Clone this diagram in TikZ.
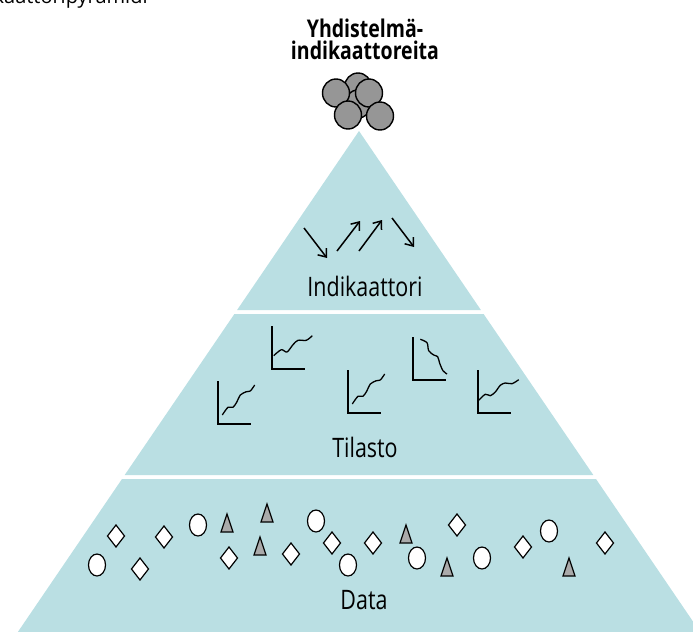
\documentclass[tikz,border=0pt]{standalone}
\usepackage{fontspec}
\setmainfont{Open Sans}[FakeStretch=0.8]
\newfontfamily\capfont{Open Sans}
\usetikzlibrary{arrows.meta}

\definecolor{pyrblue}{RGB}{186,223,227}
\definecolor{ballgray}{RGB}{150,150,150}
\definecolor{markgray}{RGB}{170,170,170}

\begin{document}
\begin{tikzpicture}[x=0.5pt, y=-0.5pt,
	%Option for the trend arrows
	>={Straight Barb[length=3.5pt,width=5.5pt]}, %
	layer/.style={fill=pyrblue},
	lbl/.style={inner sep=0pt, font=\fontsize{13.4}{16}\selectfont},
	ball/.style={draw, fill=ballgray, line width=0.7pt},
	datamark/.style={draw, fill=#1, line width=0.6pt},
	axes/.style={line width=0.65pt},
	trend/.style={line width=0.65pt, smooth},
	]
	\useasboundingbox (0,0) rectangle (693,632);
	
	% Caption, cut off by the page
	\node[anchor=base east, inner sep=0pt, font=\capfont\fontsize{10}{12}\selectfont]
	(caption) at (148,3) {Indikaattoripyramidi};
	
	% Pyramid layers
	\fill[layer] (359,131) -- (480.9,310) -- (237.1,310) -- cycle;
	\fill[layer] (234.4,314) -- (483.6,314) -- (593.3,475) -- (124.7,475) -- cycle;
	\fill[layer] (122.0,479) -- (596.0,479) -- (705.6,640) -- (12.4,640) -- cycle;
	
	% Composite indicators
	\node[align=center, inner sep=0pt, font=\bfseries\fontsize{12.2}{11}\selectfont]
	(title) at (365,39) {Yhdistelmä-\\indikaattoreita};
	\foreach \x/\y in {358/87, 358/104, 336/93, 369/93, 348/115, 380/116}
	\draw[ball] (\x,\y) ellipse (13.5 and 14);
	
	% Indicators
	\draw[->, line width=0.75pt] (304,228) -- (327,258);
	\draw[->, line width=0.75pt] (337,251) -- (360,221);
	\draw[->, line width=0.75pt] (359,251) -- (382,220);
	\draw[->, line width=0.75pt] (392,218) -- (414,247);
	\node[lbl] (indik) at (365,286) {Indikaattori};
	
	% Statistics
	\foreach \cx/\cy in {272/369, 218/424, 348/413, 413/380, 478/413}
	\draw[axes] (\cx,\cy-43) -- (\cx,\cy) -- (\cx+33,\cy);
	\begin{scope}[shift={(272,369)}]
	\draw[trend] plot coordinates {(1.7,-13.3) (9.3,-19.3) (15,-17) (21,-24.3) (26,-28.7) (34.3,-28.7) (40.3,-33.3)};
	\end{scope}
	\begin{scope}[shift={(218,424)}]
	\draw[trend] plot coordinates {(4.3,-9) (10,-16.7) (15,-16.7) (19,-22.3) (22.3,-29) (28.3,-32.3) (32.3,-33) (36.7,-39)};
	\end{scope}
	\begin{scope}[shift={(348,413)}]
	\draw[trend] plot coordinates {(4.3,-9) (10,-16.7) (15,-16.7) (19,-22.3) (22.3,-29) (28.3,-32.3) (32.3,-33) (36.7,-39)};
	\end{scope}
	\begin{scope}[shift={(413,380)}]
	\draw[trend] plot coordinates {(7.3,-40.7) (14,-37.3) (15.7,-29.3) (20.7,-25) (24.7,-23.3) (26.7,-16.7) (30,-9.3) (34,-6)};
	\end{scope}
	\begin{scope}[shift={(478,413)}]
	\draw[trend] plot coordinates {(0.7,-12.7) (7.3,-18.7) (12.3,-17.3) (17.3,-21) (22.3,-27.7) (27.3,-30) (34,-29.3) (40.7,-33.3)};
	\end{scope}
	\node[lbl] (tilasto) at (365,447) {Tilasto};
	
	% Data
	\foreach \x/\y in {116/536, 164/537, 140/569, 229/558, 291/554, 332/543, 373/543, 457/525, 523/547, 605/543}
	\draw[datamark=white] (\x,\y-11) -- (\x+8.5,\y) -- (\x,\y+11) -- (\x-8.5,\y) -- cycle;
	\foreach \x/\y in {97/565, 198/525, 316/521, 348/565, 417/558, 482/558, 549/531}
	\draw[datamark=white] (\x,\y) ellipse (8.5 and 11);
	\foreach \x/\y in {227/523, 267/513, 260/546, 406/534, 447/567, 569/567}
	\draw[datamark=markgray] (\x,\y-9) -- (\x+6,\y+9) -- (\x-6,\y+9) -- cycle;
	\node[lbl] (data) at (364,600) {Data};
\end{tikzpicture}
\end{document}
